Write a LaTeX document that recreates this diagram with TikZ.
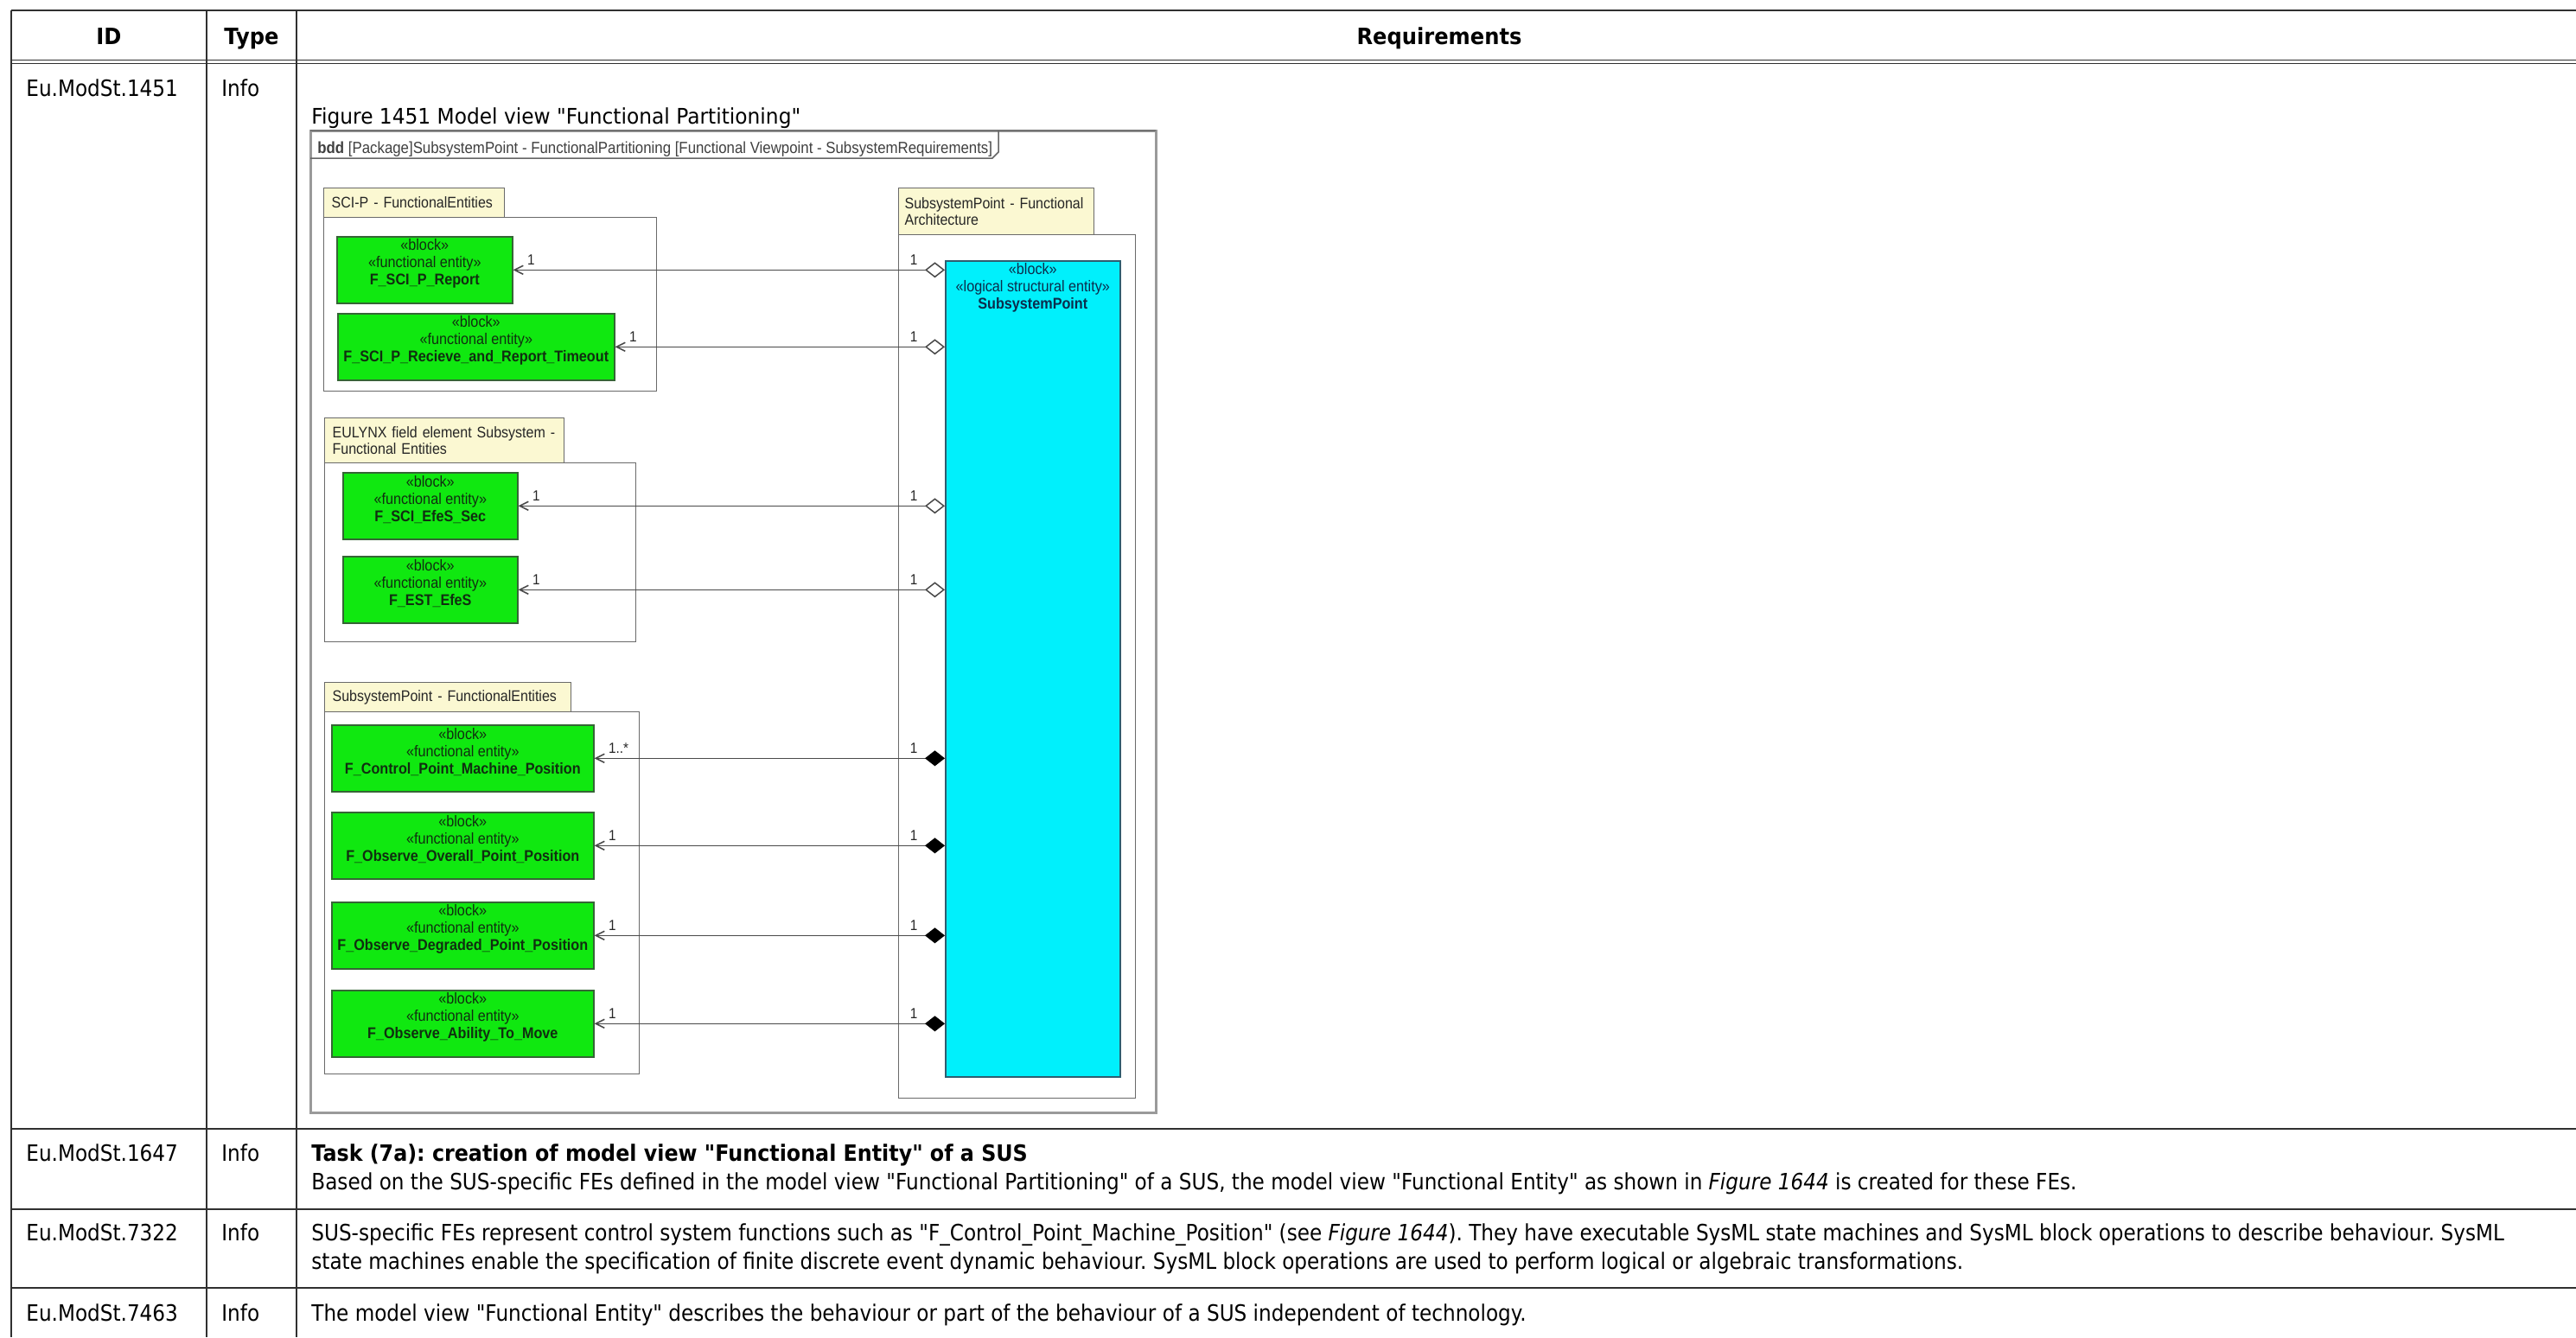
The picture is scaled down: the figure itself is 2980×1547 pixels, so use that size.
\documentclass[tikz,border=0pt]{standalone}
\usepackage{fontspec}
\usetikzlibrary{arrows.meta}

\newfontfamily\tabfont{DejaVu Sans}[FakeStretch=0.89]
\newfontfamily\capfont{DejaVu Sans}[FakeStretch=0.94]
\newfontfamily\tabbfont{DejaVu Sans}[FakeStretch=0.93]
\newfontfamily\taskfont{DejaVu Sans}[FakeStretch=0.915]
\newfontfamily\umlfont{Liberation Sans}[FakeStretch=0.9]

\definecolor{rulegray}{HTML}{303030}
\definecolor{fegreen}{HTML}{10E810}
\definecolor{feborder}{HTML}{356535}
\definecolor{fetext}{HTML}{102E10}
\definecolor{spcyan}{HTML}{00F0FC}
\definecolor{spborder}{HTML}{2E5E70}
\definecolor{sptext}{HTML}{0C2C4C}
\definecolor{tabyellow}{HTML}{FBF8D2}
\definecolor{pkgline}{HTML}{6A6A6A}
\definecolor{conn}{HTML}{4A4A4A}
\definecolor{framegray}{HTML}{9A9A9A}

\tikzset{
  celltxt/.style={anchor=base west, inner sep=0pt, font=\tabfont\fontsize{13pt}{16.5pt}\selectfont},
  headtxt/.style={anchor=base, inner sep=0pt, font=\tabbfont\bfseries\fontsize{13pt}{16.5pt}\selectfont},
  gridline/.style={draw=rulegray, line width=1pt},
  pkgtab/.style={draw=pkgline, fill=tabyellow, line width=0.6pt, anchor=north west,
    inner xsep=4.5pt, inner ysep=0pt, align=left, text=black!85,
    font=\umlfont\fontsize{8.9pt}{9.5pt}\selectfont},
  pkgbody/.style={draw=pkgline, line width=0.6pt, anchor=north west, inner sep=0pt},
  feblk/.style={draw=feborder, fill=fegreen, line width=0.8pt, anchor=north west, inner sep=0pt},
  fetxt/.style={align=center, inner sep=0pt, text=fetext,
    font=\umlfont\fontsize{9pt}{10pt}\selectfont},
  mult/.style={inner sep=0pt, text=black!85, font=\umlfont\fontsize{8.5pt}{9pt}\selectfont},
  agg/.style={draw=conn, line width=0.75pt,
    {Diamond[open,length=11.5pt,width=9pt,fill=white]}-{Straight Barb[length=5pt,width=5pt]}},
  comp/.style={draw=conn, line width=0.75pt,
    {Diamond[length=11.5pt,width=9pt,fill=black,color=black]}-{Straight Barb[length=5pt,width=5pt]}},
}

% a green functional-entity block: name, left, top, width (px), title
\newcommand\feblock[5]{%
  \node[feblk, minimum width=#4*0.5pt, minimum height=38.5pt] (#1) at (#2,#3) {};
  \node[fetxt] (#1-txt) at ([yshift=3.5pt]#1.center)
    {«block»\\«functional entity»\\\textbf{#5}};
}

\begin{document}
\frenchspacing
\begin{tikzpicture}[x=0.5pt, y=-0.5pt]
\useasboundingbox (0,0) rectangle (2980,1547);
\fill[white] (0,0) rectangle (2980,1547);

% ---------------- table grid ----------------
\draw[gridline] (13,12) -- (2980,12);
\draw[draw=rulegray, line width=0.75pt] (13,69.5) -- (2980,69.5);
\draw[draw=rulegray, line width=0.75pt] (13,73.5) -- (2980,73.5);
\draw[gridline] (13,1306) -- (2980,1306);
\draw[gridline] (13,1399) -- (2980,1399);
\draw[gridline] (13,1490) -- (2980,1490);
\draw[gridline] (13,12) -- (13,1547);
\draw[gridline] (239,12) -- (239,1547);
\draw[gridline] (343,12) -- (343,1547);

% ---------------- header ----------------
\node[headtxt] (hid) at (126,51) {ID};
\node[headtxt] (htype) at (291,51) {Type};
\node[headtxt] (hreq) at (1665,51) {Requirements};

% ---------------- rows ----------------
\node[celltxt] (id1) at (30,111) {Eu.ModSt.1451};
\node[celltxt] (ty1) at (256,111) {Info};
\node[celltxt, font=\capfont\fontsize{12.4pt}{14pt}\selectfont] (cap1) at (360,143)
  {Figure 1451 Model view "Functional Partitioning"};

\node[celltxt] (id2) at (30,1343) {Eu.ModSt.1647};
\node[celltxt] (ty2) at (256,1343) {Info};
\node[celltxt, font=\taskfont\bfseries\fontsize{13pt}{16.5pt}\selectfont] (rq2a) at (360,1343)
  {Task (7a): creation of model view "Functional Entity" of a SUS};
\node[celltxt] (rq2b) at (360,1376)
  {Based on the SUS-specific FEs defined in the model view "Functional Partitioning" of a SUS, the model view "Functional Entity" as shown in \textit{Figure 1644} is created for these FEs.};

\node[celltxt] (id3) at (30,1435) {Eu.ModSt.7322};
\node[celltxt] (ty3) at (256,1435) {Info};
\node[celltxt] (rq3a) at (360,1435)
  {SUS-specific FEs represent control system functions such as "F\_Control\_Point\_Machine\_Position" (see \textit{Figure 1644}). They have executable SysML state machines and SysML block operations to describe behaviour. SysML};
\node[celltxt] (rq3b) at (360,1468)
  {state machines enable the specification of finite discrete event dynamic behaviour. SysML block operations are used to perform logical or algebraic transformations.};

\node[celltxt] (id4) at (30,1528) {Eu.ModSt.7463};
\node[celltxt] (ty4) at (256,1528) {Info};
\node[celltxt] (rq4) at (360,1528)
  {The model view "Functional Entity" describes the behaviour or part of the behaviour of a SUS independent of technology.};

% ---------------- block definition diagram ----------------
\draw[draw=framegray, line width=1.5pt] (359,151) rectangle (1337,1287);
\draw[draw=black!55, line width=1pt] (359,151) -- (1337,151);
\draw[draw=black!60, line width=0.75pt] (359,183) -- (1148,183) -- (1155,176) -- (1155,151);
\node[anchor=base west, inner sep=0pt, text=black!75, font=\umlfont\fontsize{9.35pt}{10pt}\selectfont] (bddhead) at (367,177)
  {\textbf{bdd} [Package]SubsystemPoint - FunctionalPartitioning [Functional Viewpoint - SubsystemRequirements]};

% package bodies
\node[pkgbody, minimum width=192.5pt, minimum height=100.5pt] (pk1) at (374,251) {};
\node[pkgbody, minimum width=137pt, minimum height=499.5pt] (pk2) at (1039,271) {};
\node[pkgbody, minimum width=180pt, minimum height=103.5pt] (pk3) at (375,535) {};
\node[pkgbody, minimum width=182pt, minimum height=209.5pt] (pk4) at (375,823) {};

% package tabs
\node[pkgtab, minimum height=17pt, text width=95.5pt] (tab1) at (374,217) {SCI-P - FunctionalEntities};
\node[pkgtab, minimum height=27pt, text width=106pt, inner xsep=3.5pt] (tab2) at (1039,217) {SubsystemPoint - Functional\\Architecture};
\node[pkgtab, minimum height=26pt, text width=129.5pt] (tab3) at (375,483) {EULYNX field element Subsystem -\\Functional Entities};
\node[pkgtab, minimum height=17pt, text width=133.5pt] (tab4) at (375,789) {SubsystemPoint - FunctionalEntities};

% the logical structural entity
\node[draw=spborder, fill=spcyan, line width=0.8pt, anchor=north west, inner sep=0pt,
      minimum width=101pt, minimum height=472pt] (sp) at (1093,301) {};
\node[fetxt, text=sptext, anchor=north] (sp-txt) at ([yshift=-1.5pt]sp.north)
  {«block»\\«logical structural entity»\\\textbf{SubsystemPoint}};

% functional entities
\feblock{rep}{389}{273}{203}{F\_SCI\_P\_Report}
\feblock{rcv}{390}{362}{320}{F\_SCI\_P\_Recieve\_and\_Report\_Timeout}
\feblock{sec}{396}{546}{202}{F\_SCI\_EfeS\_Sec}
\feblock{est}{396}{643}{202}{F\_EST\_EfeS}
\feblock{cpm}{383}{838}{303}{F\_Control\_Point\_Machine\_Position}
\feblock{oop}{383}{939}{303}{F\_Observe\_Overall\_Point\_Position}
\feblock{odp}{383}{1043}{303}{F\_Observe\_Degraded\_Point\_Position}
\feblock{oam}{383}{1145}{303}{F\_Observe\_Ability\_To\_Move}

% associations from SubsystemPoint to its functional entities
\foreach \b/\m/\k in {rep/1/agg, rcv/1/agg, sec/1/agg, est/1/agg,
                      cpm/1..*/comp, oop/1/comp, odp/1/comp, oam/1/comp} {
  \coordinate (\b-d) at (sp.west |- \b.east);
  \draw[\k] (\b-d) -- (\b.east);
  \node[mult, anchor=west] at ([xshift=8pt, yshift=6pt]\b.east) {\m};
  \node[mult] at ([xshift=-18pt, yshift=6pt]\b-d) {1};
}
\end{tikzpicture}
\end{document}
